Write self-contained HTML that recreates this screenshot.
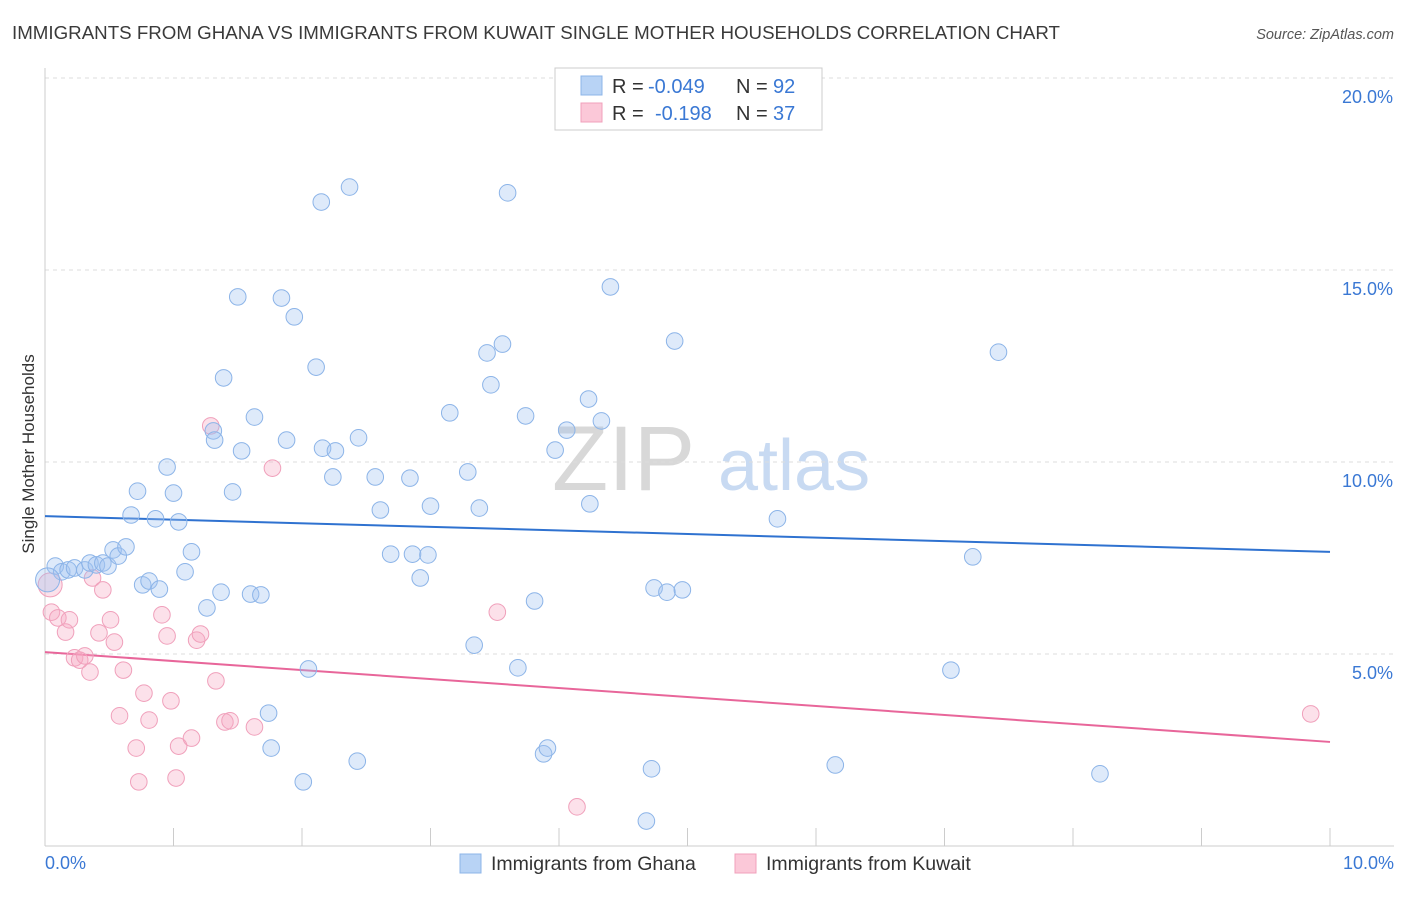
<!DOCTYPE html>
<html><head><meta charset="utf-8"><style>
body{margin:0;background:#fff;font-family:"Liberation Sans",sans-serif;}
svg text{font-family:"Liberation Sans",sans-serif;}
</style></head><body>
<svg id="chart" width="1406" height="892">
<text x="12" y="39" font-size="18" textLength="1048" lengthAdjust="spacingAndGlyphs" fill="#3a3a3a">IMMIGRANTS FROM GHANA VS IMMIGRANTS FROM KUWAIT SINGLE MOTHER HOUSEHOLDS CORRELATION CHART</text>
<text x="1394" y="39" font-size="14.5" fill="#555" font-style="italic" text-anchor="end">Source: ZipAtlas.com</text>
<text transform="translate(34,454) rotate(-90)" font-size="17" fill="#333" text-anchor="middle">Single Mother Households</text>
<g><text x="552" y="490" font-size="92" fill="#d8d8d8" font-family="Liberation Serif">ZIP</text><text x="718" y="490" font-size="72" fill="#c8daf2">atlas</text></g>
<g id="grid"></g><g id="axes"></g><g id="lines"></g><g id="pts"></g>
<g>
<rect x="555" y="68" width="267" height="62" fill="#fff" stroke="#ccc"/>
<rect x="581" y="76" width="21" height="19" fill="#b8d3f5" stroke="#8cb4e8"/>
<rect x="581" y="103" width="21" height="19" fill="#fbc8d8" stroke="#f0a0bb"/>
<g font-size="20">
<text x="612" y="93" fill="#333">R =</text><text x="648" y="93" fill="#3a78d4">-0.049</text><text x="736" y="93" fill="#333">N =</text><text x="773" y="93" fill="#3a78d4">92</text></g>
<g font-size="20">
<text x="612" y="120" fill="#333">R =</text><text x="655" y="120" fill="#3a78d4">-0.198</text><text x="736" y="120" fill="#333">N =</text><text x="773" y="120" fill="#3a78d4">37</text></g>
</g>
<g>
<rect x="460" y="854" width="21" height="19" fill="#b8d3f5" stroke="#8cb4e8"/>
<text x="491" y="870" font-size="19.5" fill="#333">Immigrants from Ghana</text>
<rect x="735" y="854" width="21" height="19" fill="#fbc8d8" stroke="#f0a0bb"/>
<text x="766" y="870" font-size="19.5" fill="#333">Immigrants from Kuwait</text>
</g>
</svg>
<script>
const ghanaX=[0.08,0.13,0.18,0.23,0.31,0.35,0.40,0.45,0.49,0.53,0.57,0.63,0.67,0.72,0.76,0.81,0.86,0.89,0.95,1.00,1.04,1.09,1.14,1.26,1.31,1.32,1.39,1.37,1.46,1.50,1.53,1.60,1.63,1.68,1.74,1.76,1.84,1.88,1.94,2.01,2.05,2.11,2.15,2.16,2.24,2.26,2.37,2.43,2.44,2.57,2.61,2.69,2.84,2.86,2.92,2.98,3.00,3.15,3.29,3.34,3.38,3.44,3.47,3.56,3.60,3.68,3.74,3.81,3.88,3.91,3.97,4.06,4.23,4.24,4.33,4.40,4.68,4.72,4.74,4.84,4.90,4.96,5.70,6.15,7.05,7.22,7.42,8.21,0.02];
const ghanaY=[7.29,7.14,7.19,7.24,7.19,7.37,7.32,7.37,7.29,7.71,7.55,7.79,8.62,9.24,6.80,6.90,8.52,6.69,9.87,9.19,8.44,7.14,7.66,6.20,10.81,10.57,12.19,6.61,9.22,14.30,10.29,6.56,11.17,6.54,3.46,2.55,14.27,10.57,13.78,1.67,4.61,12.47,16.77,10.36,9.61,10.29,17.16,2.21,10.63,9.61,8.75,7.60,9.58,7.60,6.98,7.58,8.85,11.28,9.74,5.23,8.80,12.84,12.01,13.07,17.01,4.64,11.20,6.38,2.40,2.55,10.31,10.83,11.64,8.91,11.07,14.56,0.65,2.01,6.72,6.61,13.15,6.67,8.52,2.11,4.58,7.53,12.86,1.88,6.93];
const kuwaitX=[0.04,0.05,0.10,0.16,0.19,0.23,0.27,0.31,0.35,0.37,0.42,0.45,0.51,0.54,0.58,0.61,0.71,0.73,0.77,0.81,0.91,0.95,0.98,1.02,1.04,1.14,1.18,1.21,1.29,1.33,1.40,1.44,1.63,1.77,3.52,4.14,9.85];
const kuwaitY=[6.80,6.09,5.94,5.57,5.89,4.90,4.84,4.95,4.53,6.98,5.55,6.67,5.89,5.31,3.39,4.58,2.55,1.67,3.98,3.28,6.02,5.47,3.78,1.77,2.60,2.81,5.36,5.52,10.94,4.30,3.23,3.26,3.10,9.84,6.09,1.02,3.44];
const ghanaTrend=[8.59,7.66];
const kuwaitTrend=[5.05,2.71];
const yTicks=[5,10,15,20];
const yTickLabels=["5.0%","10.0%","15.0%","20.0%"];
const xTicks=[0,1,2,3,4,5,6,7,8,9,10];
const xLabels=["0.0%","10.0%"];
const NS="http://www.w3.org/2000/svg";
const sx=v=>45+v*128.5, sy=v=>846-v*38.4;
function mk(t,a,p){const e=document.createElementNS(NS,t);for(const k in a)e.setAttribute(k,a[k]);p.appendChild(e);return e;}
const grid=document.getElementById('grid'),axes=document.getElementById('axes'),lines=document.getElementById('lines'),pts=document.getElementById('pts');
yTicks.forEach((v,i)=>{
 const l=mk('line',{x1:45,x2:1394,y1:sy(v),y2:sy(v),stroke:'#ddd','stroke-dasharray':'4,4'},grid);
 
 
 const t=mk('text',{x:1393,y:sy(v)+25,'font-size':18,fill:'#3a78d4','text-anchor':'end'},axes);
 t.textContent=yTickLabels[i];
 
 
});
const ax=mk('line',{x1:45,x2:1394,y1:846,y2:846,stroke:'#ccc'},axes);


const ay=mk('line',{x1:45,x2:45,y1:68,y2:846,stroke:'#ccc'},axes);


xTicks.forEach(v=>{
 const t=mk('line',{x1:sx(v),x2:sx(v),y1:828,y2:846,stroke:'#ccc'},axes);
 
 
});
const xl0=mk('text',{x:45,y:869,'font-size':18,fill:'#3a78d4'},axes);xl0.textContent=xLabels[0];


const xl1=mk('text',{x:1394,y:869,'font-size':18,fill:'#3a78d4','text-anchor':'end'},axes);xl1.textContent=xLabels[1];


function series(X,Y,fill,stroke,name){X.forEach((x,i)=>{
 const big=i===X.length-1&&name==='ghana'||i===0&&name==='kuwait';
 const c=mk('circle',{cx:sx(x),cy:sy(Y[i]),r:big?12:8.3,fill:fill,stroke:stroke,'stroke-width':1},pts);
 
 
});}
series(kuwaitX,kuwaitY,'rgba(245,170,195,0.35)','#f0a0bb','kuwait');
series(ghanaX,ghanaY,'rgba(160,196,240,0.35)','#8cb4e8','ghana');
const lb=mk('line',{x1:sx(0),x2:sx(10),y1:sy(ghanaTrend[0]),y2:sy(ghanaTrend[1]),stroke:'#2f72d0','stroke-width':2},lines);


const lp=mk('line',{x1:sx(0),x2:sx(10),y1:sy(kuwaitTrend[0]),y2:sy(kuwaitTrend[1]),stroke:'#e8669a','stroke-width':2},lines);


</script>
</body></html>
